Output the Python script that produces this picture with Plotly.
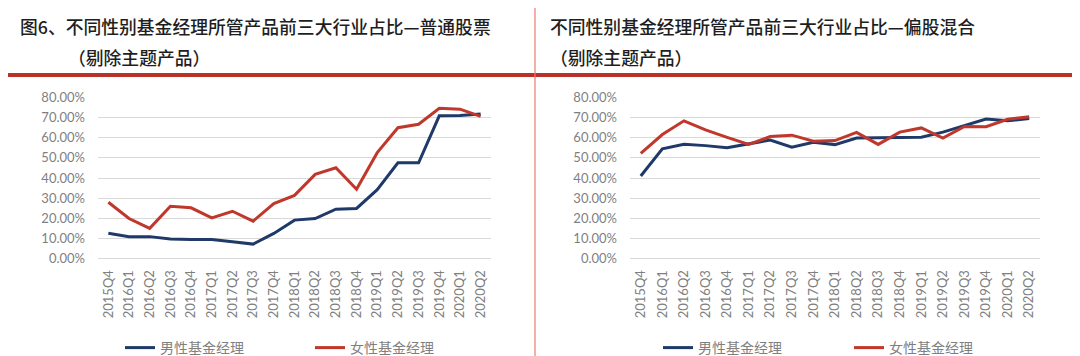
import plotly.graph_objects as go

W, H = 1080, 356

quarters = ["2015Q4", "2016Q1", "2016Q2", "2016Q3", "2016Q4", "2017Q1", "2017Q2",
            "2017Q3", "2017Q4", "2018Q1", "2018Q2", "2018Q3", "2018Q4", "2019Q1",
            "2019Q2", "2019Q3", "2019Q4", "2020Q1", "2020Q2"]

# 普通股票 (left)
stock_male = [12.6, 10.9, 10.9, 9.7, 9.5, 9.5, 8.4, 7.2, 12.5, 19.1, 19.9, 24.5, 24.9,
              34.2, 47.6, 47.6, 70.9, 71.0, 71.8]
stock_female = [28.0, 19.9, 15.0, 26.0, 25.2, 20.2, 23.5, 18.6, 27.3, 31.4, 41.8, 45.1,
                34.4, 52.6, 65.0, 66.7, 74.6, 74.2, 70.6]

# 偏股混合 (right)
mixed_male = [41.0, 54.5, 56.8, 56.1, 55.0, 56.8, 58.9, 55.3, 57.8, 56.6, 59.9, 60.0,
              60.0, 60.3, 62.8, 66.1, 69.3, 68.4, 69.6]
mixed_female = [52.3, 61.6, 68.4, 63.9, 60.2, 56.7, 60.6, 61.3, 58.3, 58.6, 62.7, 56.7,
                62.8, 64.9, 59.8, 65.6, 65.5, 69.2, 70.4]

title_left_1 = "图6、不同性别基金经理所管产品前三大行业占比—普通股票"
title_right_1 = "不同性别基金经理所管产品前三大行业占比—偏股混合"
title_line_2 = "（剔除主题产品）"
name_male = "男性基金经理"
name_female = "女性基金经理"

BLUE = "#1F3A68"
RED = "#C0372C"
GRID = "#D9D9D9"
TICK = "#7F7F7F"
TICKFONT = dict(family="Lato, Liberation Sans, sans-serif", size=13, color=TICK)

fig = go.Figure()

def add_pair(male, female, xa, ya, leg):
    fig.add_trace(go.Scatter(x=quarters, y=[v / 100 for v in male], mode="lines",
                             name=name_male, line=dict(color=BLUE, width=3),
                             xaxis=xa, yaxis=ya, legend=leg))
    fig.add_trace(go.Scatter(x=quarters, y=[v / 100 for v in female], mode="lines",
                             name=name_female, line=dict(color=RED, width=3),
                             xaxis=xa, yaxis=ya, legend=leg))

add_pair(stock_male, stock_female, "x", "y", "legend")
add_pair(mixed_male, mixed_female, "x2", "y2", "legend2")

ydom = [1 - 252 / H, 1 - 90 / H]
xcommon = dict(type="category", range=[-0.5, 18.5], showgrid=False, showline=False,
               ticks="", tickangle=-90, tickfont=TICKFONT, ticklabelstandoff=8,
               automargin=False, fixedrange=True)
ycommon = dict(range=[0, 0.8], dtick=0.1, tickformat=".2%", showgrid=True,
               gridcolor=GRID, gridwidth=1, zeroline=True, zerolinecolor=GRID,
               zerolinewidth=1, showline=False, ticks="", tickfont=TICKFONT,
               ticklabelstandoff=12, automargin=False, fixedrange=True)

fig.update_layout(
    width=W, height=H,
    margin=dict(l=0, r=0, t=0, b=0),
    paper_bgcolor="white", plot_bgcolor="white",
    xaxis=dict(domain=[90 / W, 483 / W], anchor="y", **xcommon),
    yaxis=dict(domain=ydom, anchor="x", **ycommon),
    xaxis2=dict(domain=[622 / W, 1032 / W], anchor="y2", **xcommon),
    yaxis2=dict(domain=ydom, anchor="x2", **ycommon),
    legend=dict(orientation="h", x=112 / W, y=1 - 342 / H, xanchor="left",
                yanchor="middle", entrywidth=145, entrywidthmode="pixels",
                font=dict(family="Noto Sans CJK SC", size=14, color="#7F7F7F"),
                bgcolor="rgba(0,0,0,0)"),
    legend2=dict(orientation="h", x=650 / W, y=1 - 342 / H, xanchor="left",
                 yanchor="middle", entrywidth=146, entrywidthmode="pixels",
                 font=dict(family="Noto Sans CJK SC", size=14, color="#7F7F7F"),
                 bgcolor="rgba(0,0,0,0)"),
    showlegend=True,
)

TFONT = dict(family="Noto Sans CJK SC", size=17.8, color="#1E1E1E", weight=500)
for txt, x, y in [(title_left_1, 10, 18), (title_line_2, 58, 49),
                  (title_right_1, 540, 18), (title_line_2, 540, 49)]:
    fig.add_annotation(text=txt, xref="paper", yref="paper", x=x / W, y=1 - y / H,
                       xanchor="left", yanchor="middle", showarrow=False, font=TFONT)

fig.add_shape(type="line", xref="paper", yref="paper", x0=0, x1=1,
              y0=1 - 67.5 / H, y1=1 - 67.5 / H, line=dict(color="#B83229", width=4))
fig.add_shape(type="line", xref="paper", yref="paper", x0=527 / W, x1=527 / W,
              y0=0, y1=1, line=dict(color="#EE7A70", width=1.2))

fig.write_html("out.html")
